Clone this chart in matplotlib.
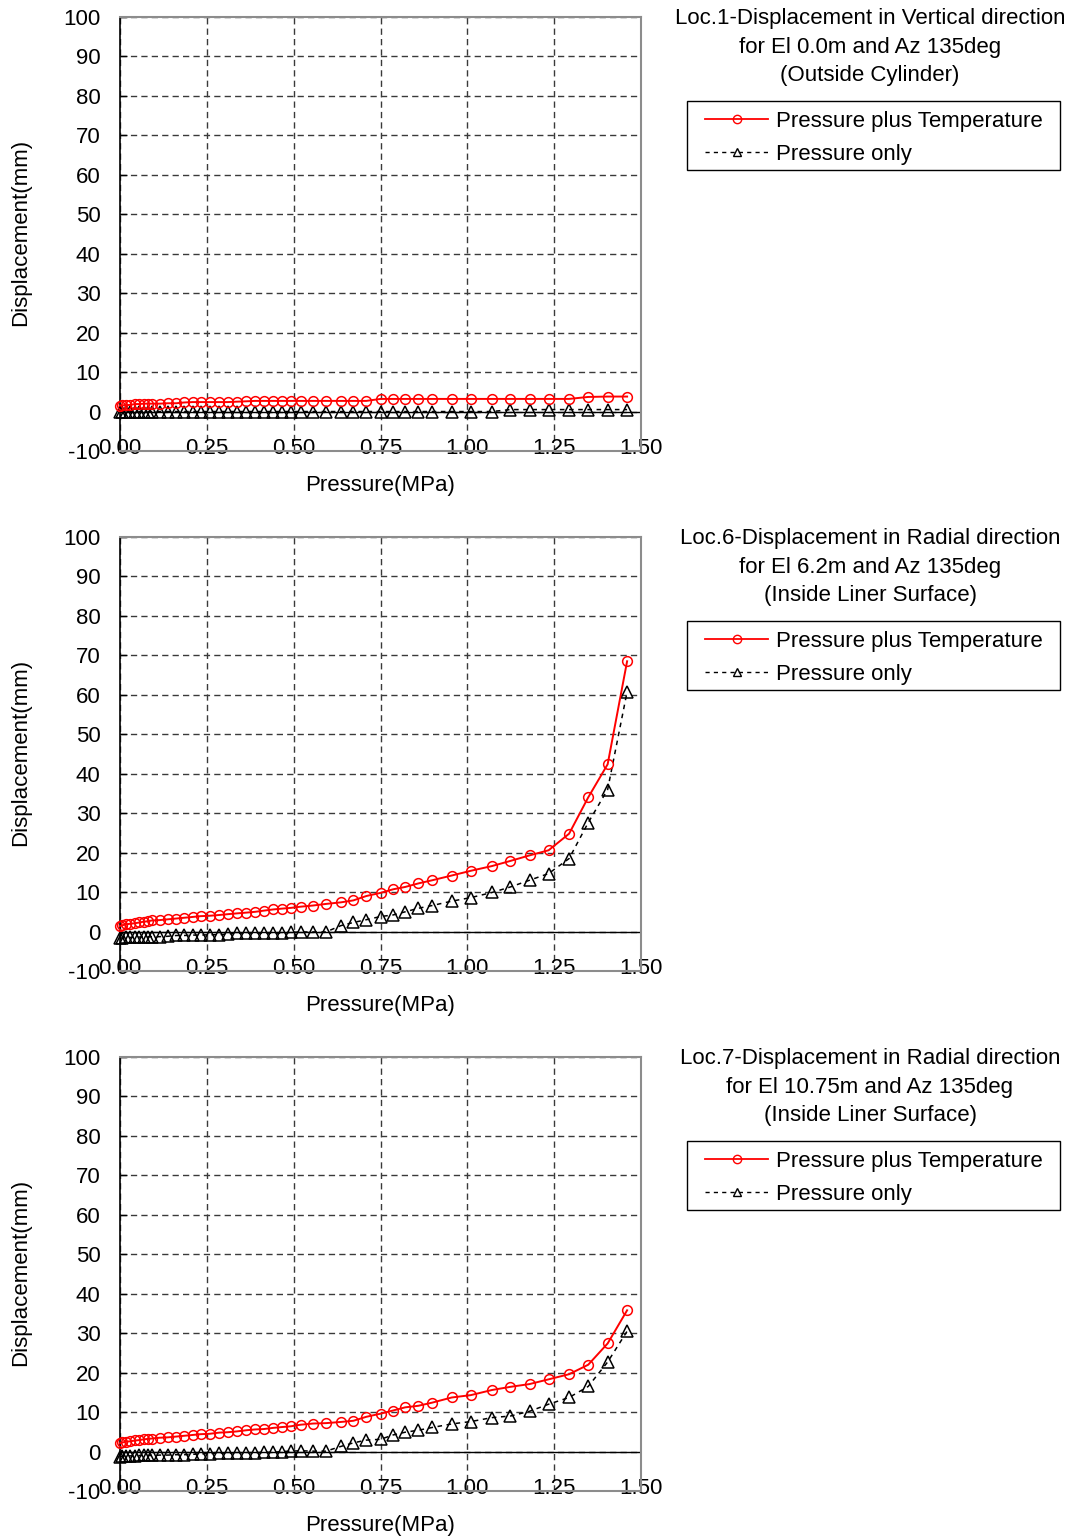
import matplotlib
matplotlib.use("Agg")
import matplotlib.pyplot as plt
from matplotlib.lines import Line2D
from matplotlib.patches import Rectangle

plt.rcParams['font.family'] = ['Liberation Sans', 'DejaVu Sans']

# Internal pressure steps (MPa)
pressure = [0.00, 0.007, 0.017, 0.03, 0.043, 0.056, 0.068, 0.081, 0.091, 0.114,
            0.138, 0.162, 0.185, 0.209, 0.232, 0.258, 0.286, 0.31, 0.336, 0.364,
            0.389, 0.414, 0.441, 0.465, 0.492, 0.52, 0.556, 0.593, 0.636, 0.672,
            0.709, 0.75, 0.786, 0.821, 0.859, 0.899, 0.955, 1.01, 1.071, 1.124,
            1.179, 1.234, 1.293, 1.348, 1.404, 1.46]

# Loc.1 - vertical displacement (mm)
loc1_pt = [1.5, 1.6, 1.6, 1.7, 1.9, 1.9, 2.0, 2.0, 2.0, 2.0,
           2.1, 2.1, 2.3, 2.4, 2.4, 2.4, 2.4, 2.4, 2.5, 2.6,
           2.7, 2.7, 2.7, 2.7, 2.7, 2.7, 2.7, 2.7, 2.7, 2.7,
           2.7, 3.2, 3.2, 3.2, 3.2, 3.2, 3.2, 3.2, 3.2, 3.2,
           3.2, 3.2, 3.2, 3.7, 3.8, 3.8]
loc1_p = [0.0, 0.0, 0.0, 0.0, 0.0, 0.0, 0.0, 0.0, 0.0, 0.0,
          0.0, 0.0, 0.0, 0.0, 0.0, 0.0, 0.0, 0.0, 0.0, 0.0,
          0.0, 0.0, 0.0, 0.0, 0.0, 0.0, 0.0, 0.0, 0.0, 0.0,
          0.0, 0.0, 0.0, 0.0, 0.0, 0.0, 0.0, 0.0, 0.0, 0.5,
          0.5, 0.5, 0.5, 0.5, 0.5, 0.5]

# Loc.6 - radial displacement (mm)
loc6_pt = [1.4, 1.6, 1.8, 2.0, 2.1, 2.3, 2.5, 2.6, 2.8, 2.9,
           3.1, 3.3, 3.5, 3.7, 3.9, 4.0, 4.2, 4.4, 4.6, 4.8,
           5.0, 5.3, 5.6, 5.8, 6.0, 6.3, 6.6, 7.0, 7.4, 7.9,
           9.0, 9.8, 10.7, 11.3, 12.2, 13.0, 14.2, 15.4, 16.6, 17.9,
           19.3, 20.6, 24.8, 34.0, 42.4, 68.5]
loc6_p = [-1.7, -1.6, -1.5, -1.5, -1.4, -1.4, -1.3, -1.3, -1.3, -1.3,
          -1.2, -1.0, -1.0, -0.9, -0.9, -0.8, -0.8, -0.6, -0.4, -0.4,
          -0.4, -0.4, -0.4, -0.4, -0.2, -0.1, -0.1, -0.1, 1.5, 2.3,
          3.0, 3.8, 4.2, 5.0, 5.9, 6.6, 7.7, 8.6, 9.9, 11.3,
          13.0, 14.7, 18.5, 27.6, 36.0, 60.8]

# Loc.7 - radial displacement (mm)
loc7_pt = [2.1, 2.3, 2.5, 2.6, 2.8, 2.9, 3.1, 3.2, 3.3, 3.5,
           3.6, 3.8, 4.0, 4.2, 4.4, 4.5, 4.8, 4.9, 5.1, 5.4,
           5.6, 5.7, 6.0, 6.2, 6.4, 6.8, 7.1, 7.2, 7.5, 7.8,
           8.8, 9.6, 10.4, 11.2, 11.6, 12.4, 13.7, 14.3, 15.6, 16.4,
           17.1, 18.3, 19.6, 22.0, 27.4, 35.8]
loc7_p = [-1.3, -1.2, -1.2, -1.1, -1.1, -1.0, -1.0, -1.0, -1.0, -0.9,
          -0.9, -0.8, -0.8, -0.7, -0.6, -0.5, -0.4, -0.4, -0.3, -0.3,
          -0.3, -0.2, -0.2, 0.0, 0.1, 0.2, 0.1, 0.1, 1.3, 2.2,
          2.9, 3.1, 4.2, 4.9, 5.4, 6.1, 7.0, 7.6, 8.6, 9.0,
          10.2, 12.0, 13.7, 16.5, 22.7, 30.5]

titles = [
    ["Loc.1-Displacement in Vertical direction", "for El 0.0m and Az 135deg", "(Outside Cylinder)"],
    ["Loc.6-Displacement in Radial direction", "for El 6.2m and Az 135deg", "(Inside Liner Surface)"],
    ["Loc.7-Displacement in Radial direction", "for El 10.75m and Az 135deg", "(Inside Liner Surface)"],
]
series_labels = ["Pressure plus Temperature", "Pressure only"]
x_ticks = [0.0, 0.25, 0.5, 0.75, 1.0, 1.25, 1.5]
x_tick_labels = ["0.00", "0.25", "0.50", "0.75", "1.00", "1.25", "1.50"]
y_ticks = [-10, 0, 10, 20, 30, 40, 50, 60, 70, 80, 90, 100]
y_tick_labels = ["-10", "0", "10", "20", "30", "40", "50", "60", "70", "80", "90", "100"]

panels = [(loc1_pt, loc1_p), (loc6_pt, loc6_p), (loc7_pt, loc7_p)]

W, H = 1082, 1539
fig = plt.figure(figsize=(W / 100, H / 100), dpi=100)
FS = 16

def fx(px):
    return px / W

def fy(py):
    return 1 - py / H

ax_left, ax_right = 120, 641
panel_top = [17, 537, 1057]
ax_height = 434

for i, (pt, p) in enumerate(panels):
    top = panel_top[i]
    ax = fig.add_axes([fx(ax_left), fy(top + ax_height), (ax_right - ax_left) / W, ax_height / H])
    ax.set_xlim(0, 1.5)
    ax.set_ylim(-10, 100)

    ax.set_yticks(y_ticks)
    ax.set_yticklabels(y_tick_labels, fontsize=FS)
    ax.set_xticks(x_ticks)
    ax.set_xticklabels(x_tick_labels, fontsize=FS)
    ax.tick_params(axis='y', direction='in', length=5, width=1, pad=14, color='black')
    ax.tick_params(axis='x', length=0, pad=-9)

    ax.grid(True, color='#3a3a3a', linestyle=(0, (4.5, 3)), linewidth=1.0)
    for s in ('top', 'right', 'bottom'):
        ax.spines[s].set_color('#8c8c8c')
        ax.spines[s].set_linewidth(1.5)
    ax.spines['left'].set_color('black')
    ax.spines['left'].set_linewidth(1.2)
    ax.axhline(0, color='black', linewidth=1.0, zorder=2)

    ax.plot(pressure, p, color='black', linestyle=(0, (3, 3)), linewidth=1.1,
            marker='^', markersize=8, markerfacecolor='none', markeredgecolor='black',
            markeredgewidth=1.1, zorder=3, clip_on=False)
    ax.plot(pressure, pt, color='red', linestyle='-', linewidth=1.4,
            marker='o', markersize=7, markerfacecolor='none', markeredgecolor='red',
            markeredgewidth=1.1, zorder=4, clip_on=False)

    # Axis titles
    fig.text(fx(21), fy(top + 215), "Displacement(mm)", rotation=90,
             ha='center', va='center', fontsize=FS)
    fig.text(fx(380), fy(top + 468), "Pressure(MPa)", ha='center', va='center', fontsize=FS)

    # Panel title
    for k, line in enumerate(titles[i]):
        fig.text(fx(870), fy(top + 1.5 + 28.5 * k), line, ha='center', va='center', fontsize=FS)

    # Legend with boxed frame
    fig.add_artist(Rectangle((fx(687), fy(top + 153)), (1060 - 687) / W, 69 / H,
                             transform=fig.transFigure, facecolor='white',
                             edgecolor='black', linewidth=1.0))
    handles = [
        Line2D([], [], color='red', linewidth=1.3, marker='o', markersize=6,
               markerfacecolor='none', markeredgecolor='red'),
        Line2D([], [], color='black', linestyle=(0, (3, 3)), linewidth=1.0, marker='^',
               markersize=6, markerfacecolor='none', markeredgecolor='black'),
    ]
    fig.legend(handles, series_labels, loc='center left',
               bbox_to_anchor=(fx(705), fy(top + 121)),
               frameon=False, fontsize=FS, borderpad=0, borderaxespad=0,
               handlelength=2.84, handletextpad=0.36, labelspacing=0.55,
               numpoints=1)

fig.savefig("out.png", dpi=100)
